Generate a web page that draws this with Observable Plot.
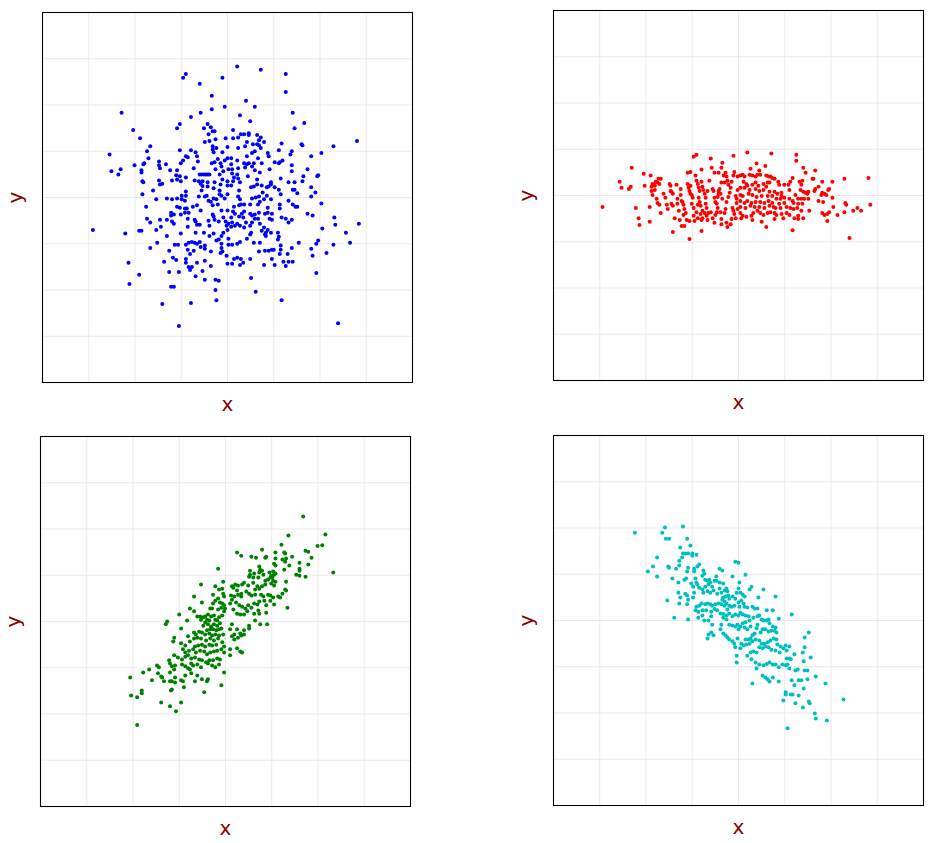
<!DOCTYPE html>
<html>
<head>
<meta charset="utf-8">
<script src="https://cdn.jsdelivr.net/npm/d3@7"></script>
<script src="https://cdn.jsdelivr.net/npm/@observablehq/plot@0.6"></script>
<style>
  html, body { margin: 0; padding: 0; background: #fff; }
  #wrap { position: relative; width: 935px; height: 843px; background: #fff; }
  .panel { position: absolute; }
</style>
</head>
<body>
<div id="wrap"></div>
<script>
// Panel 1: independent (blue)
const bluePoints = [
[-0.96,2.59],[-0.90,2.67],[-0.60,2.46],[-0.11,2.59],[-0.34,2.20],[-2.29,1.83],[-0.34,1.91],[-0.06,1.96],[-0.58,1.83],[-0.79,1.74],[-1.03,1.59],[-1.09,1.50],[-2.04,1.46],[-1.89,1.28],[-0.51,1.50],[-0.43,1.59],[-0.36,1.52],[-0.32,1.43],[-0.28,1.43],[-0.41,1.37],[-0.26,1.26],[-0.04,1.28],[-0.49,1.20],[-0.39,1.22],[-1.67,1.11],[-1.74,1.00],[-2.55,0.93],[-1.71,0.85],[-1.03,1.02],[-0.90,0.89],[-0.86,0.87],[-0.79,1.02],[-0.69,0.98],[-0.66,0.89],[-0.96,0.80],[-1.01,0.74],[-0.64,0.78],[-0.32,1.04],[-0.24,1.07],[-0.30,0.98],[-0.32,1.11],[-0.11,0.98],[0.00,1.09],[-2.01,0.70],[-1.82,0.72],[-1.80,0.74],[-1.48,0.78],[-1.33,0.72],[-1.48,0.70],[-1.46,0.63],[-1.86,0.59],[-1.86,0.54],[-2.31,0.61],[-2.51,0.57],[-2.36,0.50],[-1.24,0.59],[-1.09,0.59],[-0.73,0.63],[-0.60,0.50],[-0.56,0.50],[-0.51,0.50],[-0.47,0.50],[-0.43,0.50],[-0.39,0.50],[-0.34,0.74],[-0.28,0.76],[-0.15,0.74],[-0.13,0.67],[-0.21,0.83],[-0.06,0.80],[0.00,0.85],[-0.26,0.61],[-0.17,0.50],[-0.09,0.57],[0.02,0.61],[-1.11,0.48],[-1.03,0.46],[-0.90,0.43],[-1.48,0.37],[-1.41,0.30],[-1.46,0.28],[-1.20,0.37],[-1.09,0.39],[-1.01,0.35],[-0.71,0.37],[-0.62,0.35],[-0.54,0.35],[-0.58,0.30],[-0.43,0.33],[-0.28,0.33],[-0.11,0.39],[0.00,0.35],[-1.84,0.35],[-1.82,0.33],[-1.61,0.15],[-1.84,0.07],[-1.54,-0.04],[-1.31,-0.02],[-1.20,-0.04],[-1.09,-0.02],[-0.99,0.04],[-0.90,0.13],[-0.99,-0.04],[-0.90,0.04],[-0.92,-0.07],[-0.54,0.25],[-0.56,0.15],[-0.43,0.24],[-0.30,0.20],[-0.15,0.28],[-0.17,0.15],[0.00,0.26],[-0.62,0.02],[-0.49,0.02],[-0.45,0.04],[-0.41,-0.07],[-0.36,-0.09],[-0.30,-0.02],[-0.24,-0.04],[-0.17,0.07],[-0.13,0.04],[-0.06,-0.02],[0.00,0.07],[-1.76,-0.20],[-1.09,-0.20],[-1.03,-0.22],[-0.92,-0.24],[-0.88,-0.24],[-0.75,-0.20],[-0.66,-0.17],[-0.92,-0.33],[-0.84,-0.33],[-0.58,-0.28],[-0.32,-0.17],[-0.21,-0.15],[-0.13,-0.28],[0.00,-0.28],[-1.22,-0.33],[-1.16,-0.37],[-1.01,-0.37],[-1.22,-0.39],[-1.74,-0.46],[-1.67,-0.54],[-1.46,-0.48],[-1.31,-0.48],[-1.20,-0.52],[-1.16,-0.57],[-0.86,-0.46],[-0.71,-0.48],[-0.66,-0.59],[-0.69,-0.52],[-0.60,-0.59],[-0.41,-0.50],[-0.39,-0.61],[-0.32,-0.37],[-0.30,-0.41],[-0.28,-0.48],[-0.19,-0.52],[-0.09,-0.43],[-0.04,-0.52],[-0.02,-0.61],[0.02,-0.57],[-2.91,-0.70],[-2.21,-0.78],[-1.91,-0.72],[-1.86,-0.72],[-1.54,-0.70],[-1.44,-0.63],[-1.31,-0.83],[-1.01,-0.78],[-0.86,-0.63],[-0.69,-0.76],[-0.51,-0.76],[-0.39,-0.83],[-0.30,-0.78],[-0.13,-0.83],[-0.19,-0.91],[-0.24,-0.93],[-0.13,-1.00],[-0.09,-0.76],[0.00,-0.70],[0.02,-0.89],[-1.52,-0.98],[-1.67,-1.09],[-1.14,-1.02],[-1.07,-1.02],[-0.90,-1.02],[-0.84,-0.98],[-0.77,-0.96],[-0.71,-0.98],[-0.66,-1.00],[-0.60,-0.96],[-0.49,-1.04],[-0.49,-1.11],[-0.86,-1.13],[-0.73,-1.15],[-0.81,-1.22],[-0.58,-1.07],[-0.36,-1.17],[-0.15,-1.20],[-0.11,-1.17],[-0.13,-1.09],[-0.02,-1.26],[0.02,-1.02],[-1.26,-1.15],[-1.37,-1.39],[-1.18,-1.30],[-1.11,-1.35],[-0.90,-1.33],[-0.90,-1.41],[-0.77,-1.50],[-0.81,-1.57],[-0.84,-1.50],[-0.66,-1.41],[-0.49,-1.37],[-0.36,-1.48],[-0.54,-1.59],[-2.14,-1.41],[-1.91,-1.67],[-2.12,-1.87],[-1.26,-1.61],[-1.05,-1.61],[-0.69,-1.70],[-0.49,-1.78],[-0.26,-1.78],[-0.19,-1.80],[0.00,-1.43],[-1.22,-1.93],[-1.16,-1.93],[-0.26,-2.00],[-1.41,-2.30],[-0.79,-2.28],[-0.24,-2.22],[-1.05,-2.78],
[0.21,2.83],[0.72,2.76],[1.26,2.67],[1.26,2.28],[0.40,2.09],[0.59,1.96],[0.27,1.78],[1.41,1.83],[0.49,1.65],[1.45,1.50],[1.66,1.61],[0.12,1.46],[0.29,1.37],[0.36,1.37],[0.46,1.39],[0.46,1.35],[0.64,1.35],[0.72,1.30],[0.68,1.24],[0.79,1.20],[0.23,1.30],[0.12,1.28],[0.42,1.20],[0.38,1.11],[0.55,1.15],[0.64,1.15],[0.68,1.13],[0.72,1.07],[0.23,1.07],[0.59,1.00],[0.53,0.96],[0.42,0.89],[0.87,0.96],[0.89,0.89],[1.11,1.02],[1.17,1.17],[1.39,1.00],[1.36,0.93],[1.60,1.15],[1.62,1.13],[1.81,0.89],[2.03,0.96],[2.29,1.11],[2.80,1.22],[0.08,0.85],[0.21,0.80],[0.36,0.74],[0.42,0.72],[0.46,0.74],[0.57,0.74],[0.66,0.85],[0.74,0.74],[0.53,0.67],[0.59,0.59],[0.38,0.65],[0.08,0.72],[0.10,0.61],[0.10,0.52],[0.23,0.63],[0.21,0.50],[0.70,0.54],[0.91,0.61],[1.02,0.76],[1.11,0.74],[1.13,0.76],[1.19,0.80],[1.39,0.70],[1.39,0.57],[1.15,0.41],[1.32,0.33],[1.45,0.33],[1.45,0.17],[1.41,0.17],[1.51,0.09],[1.62,0.35],[1.64,0.46],[1.73,0.61],[1.94,0.46],[1.96,0.48],[1.81,0.22],[1.90,0.11],[1.81,0.02],[0.64,0.39],[0.44,0.46],[0.23,0.41],[0.14,0.43],[0.12,0.35],[0.08,0.26],[0.27,0.33],[0.51,0.22],[0.57,0.24],[0.64,0.28],[0.74,0.26],[0.85,0.22],[0.89,0.24],[0.94,0.33],[0.94,0.28],[1.02,0.22],[1.11,0.17],[1.15,0.07],[0.76,0.11],[0.85,0.04],[0.68,0.02],[0.61,0.00],[0.53,-0.02],[0.25,0.15],[0.23,0.02],[0.27,-0.04],[0.29,-0.15],[0.25,-0.17],[0.14,-0.20],[0.12,-0.30],[0.36,-0.15],[0.49,-0.15],[0.66,-0.15],[0.70,-0.09],[0.79,-0.04],[0.94,-0.04],[0.87,-0.22],[1.13,-0.15],[1.13,-0.24],[1.32,-0.07],[1.41,-0.15],[1.47,-0.20],[1.51,-0.20],[1.17,-0.43],[1.26,-0.46],[1.32,-0.54],[1.39,-0.48],[1.73,-0.35],[1.84,-0.39],[2.03,-0.13],[2.33,-0.59],[2.31,-0.43],[2.84,-0.57],[2.05,-0.67],[2.56,-0.76],[2.65,-0.98],[2.29,-1.02],[2.14,-1.20],[1.92,-1.00],[1.96,-0.93],[1.81,-1.11],[1.84,-1.26],[1.54,-0.98],[1.39,-1.09],[1.30,-1.22],[1.21,-1.39],[1.32,-1.39],[1.41,-1.39],[1.26,-1.48],[1.15,-1.04],[1.15,-1.13],[1.13,-1.22],[1.09,-0.76],[1.11,-0.85],[1.09,-0.91],[0.94,-0.76],[0.87,-0.70],[0.83,-0.76],[0.81,-0.80],[0.83,-0.83],[0.91,-0.46],[0.96,-0.48],[0.87,-0.33],[0.96,-0.35],[0.81,-0.35],[0.68,-0.33],[0.59,-0.37],[0.49,-0.35],[0.53,-0.39],[0.36,-0.30],[0.31,-0.35],[0.34,-0.43],[0.25,-0.41],[0.16,-0.35],[0.08,-0.43],[0.10,-0.54],[0.08,-0.63],[0.16,-0.61],[0.21,-0.57],[0.27,-0.61],[0.36,-0.65],[0.40,-0.54],[0.49,-0.61],[0.53,-0.54],[0.59,-0.46],[0.66,-0.46],[0.70,-0.57],[0.79,-0.65],[0.74,-0.72],[0.51,-0.76],[0.49,-0.80],[0.42,-0.89],[0.57,-0.98],[0.70,-0.98],[0.27,-0.96],[0.21,-1.00],[0.10,-1.02],[0.68,-1.17],[0.81,-1.15],[0.89,-1.15],[0.96,-1.13],[1.00,-1.13],[0.96,-1.33],[0.79,-1.46],[1.02,-1.46],[0.49,-1.33],[0.34,-1.41],[0.29,-1.33],[0.27,-1.46],[0.21,-1.30],[0.14,-1.33],[0.10,-1.43],[0.51,-1.74],[0.61,-2.04],[1.17,-2.22],[1.92,-1.63],[2.39,-2.72]
];

// Panel 2: x wide, y narrow (red)
const redPoints = [
[-2.94,-0.25],[-2.57,0.30],[-2.53,0.17],[-2.37,0.14],[-2.33,0.19],[-2.31,0.60],[-2.22,-0.27],[-2.16,-0.49],[-2.14,-0.64],[-2.05,0.47],[-2.03,0.21],[-1.92,-0.57],[-1.92,-0.25],[-1.90,0.43],[-1.88,0.19],[-1.86,0.25],[-1.83,0.23],[-1.81,0.21],[-1.79,0.30],[-1.75,0.28],[-1.73,0.36],[-1.71,0.25],[-1.68,0.36],[-1.88,0.10],[-1.86,0.01],[-1.81,0.12],[-1.77,-0.07],[-1.75,-0.16],[-1.71,-0.20],[-1.68,-0.38],[-1.62,0.04],[-1.58,-0.05],[-1.55,-0.20],[-1.53,-0.29],[-1.49,0.25],[-1.47,0.21],[-1.47,0.10],[-1.45,0.08],[-1.42,0.04],[-1.45,-0.18],[-1.42,-0.22],[-1.38,-0.49],[-1.34,0.23],[-1.32,-0.07],[-1.32,-0.18],[-1.29,-0.33],[-1.27,-0.53],[-1.23,-0.66],[-1.25,0.14],[-1.25,0.01],[-1.23,-0.12],[-1.21,-0.14],[-1.19,-0.20],[-1.17,-0.29],[-1.17,-0.66],[-1.19,-0.42],[-1.14,-0.38],[-1.12,-0.53],[-1.10,0.49],[-1.04,0.51],[-1.10,0.25],[-1.08,0.17],[-1.06,0.10],[-1.04,0.21],[-1.04,0.04],[-1.01,0.01],[-0.99,-0.05],[-1.01,-0.18],[-0.97,-0.27],[-0.97,0.84],[-0.91,0.88],[-0.93,0.43],[-0.91,0.32],[-0.88,0.25],[-0.86,0.17],[-0.84,0.10],[-0.86,-0.05],[-0.84,-0.14],[-0.88,-0.20],[-0.82,-0.22],[-0.80,0.56],[-0.80,0.30],[-0.78,0.19],[-0.76,0.12],[-0.73,0.04],[-0.71,-0.05],[-0.71,-0.18],[-0.69,-0.27],[-0.91,-0.36],[-0.88,-0.49],[-0.82,-0.40],[-0.80,-0.53],[-1.06,-0.55],[-1.06,-0.94],[-0.95,-0.55],[-0.97,-0.44],[-0.78,-0.33],[-0.78,-0.49],[-0.73,-0.38],[-0.69,-0.44],[-0.67,-0.53],[-0.65,-0.38],[-0.60,-0.36],[-0.60,0.80],[-0.58,0.60],[-0.63,0.32],[-0.56,0.14],[-0.67,0.10],[-0.52,0.49],[-0.54,0.10],[-0.52,-0.05],[-0.50,-0.14],[-0.47,-0.18],[-0.45,-0.03],[-0.43,0.10],[-0.41,0.14],[-0.39,0.04],[-0.35,0.71],[-0.37,0.60],[-0.43,0.49],[-0.32,0.43],[-0.28,0.49],[-0.26,0.41],[-0.24,0.32],[-0.22,0.23],[-0.37,0.28],[-0.30,0.28],[-0.56,-0.49],[-0.50,-0.42],[-0.52,-0.59],[-0.47,-0.36],[-0.45,-0.27],[-0.39,-0.36],[-0.37,-0.51],[-0.37,-0.62],[-0.30,-0.38],[-0.28,-0.29],[-0.26,-0.14],[-0.22,-0.03],[-0.19,0.06],[-0.17,0.17],[-0.15,0.30],[-0.11,0.43],[-0.09,0.51],[-0.11,0.86],[-0.02,0.41],[-0.02,0.12],[-0.06,-0.01],[-0.04,-0.07],[-0.04,-0.16],[-0.13,-0.27],[-0.11,-0.33],[-0.09,-0.40],[-0.06,-0.49],[-0.26,-0.59],[-0.24,-0.68],[-0.17,-0.62],[-0.15,-0.51],[-0.02,-0.29],[-0.80,-0.77],[-1.42,-0.79],[-0.43,0.04],[-0.35,-0.07],
[0.19,0.93],[0.71,0.91],[1.25,0.88],[1.25,0.75],[0.39,0.69],[0.58,0.64],[0.26,0.58],[0.45,0.54],[1.40,0.60],[1.45,0.49],[1.66,0.54],[0.04,0.43],[0.09,0.45],[0.13,0.41],[0.24,0.45],[0.30,0.43],[0.37,0.41],[0.41,0.45],[0.47,0.45],[0.60,0.43],[0.65,0.41],[0.69,0.41],[0.73,0.38],[0.78,0.36],[0.86,0.30],[0.88,0.23],[0.11,0.30],[0.17,0.25],[0.30,0.23],[0.37,0.28],[0.43,0.21],[0.54,0.25],[0.63,0.28],[0.67,0.28],[0.99,0.23],[1.08,0.23],[1.17,0.38],[1.12,0.30],[1.10,0.12],[1.32,0.30],[1.38,0.32],[1.36,0.23],[1.34,0.12],[1.40,0.08],[1.45,0.06],[1.49,0.04],[1.51,0.08],[1.60,0.36],[1.62,0.36],[1.66,0.14],[1.64,0.10],[1.73,0.19],[1.81,0.30],[1.81,0.06],[1.79,0.01],[1.86,0.04],[1.90,0.01],[1.94,0.12],[1.96,0.14],[2.03,0.30],[2.29,0.36],[2.81,0.38],[0.04,0.17],[0.13,0.17],[0.19,0.21],[0.24,0.12],[0.37,0.14],[0.45,0.10],[0.54,0.12],[0.60,0.19],[0.67,0.08],[0.78,0.08],[0.84,0.04],[0.93,0.06],[0.93,-0.01],[0.04,0.01],[0.09,-0.01],[0.22,0.04],[0.30,0.01],[0.39,-0.03],[0.50,-0.01],[0.63,-0.01],[0.73,-0.01],[0.82,-0.07],[0.91,-0.07],[0.99,-0.05],[1.10,-0.07],[1.17,-0.12],[1.23,0.01],[1.29,-0.07],[1.36,-0.07],[1.42,-0.07],[1.51,-0.07],[1.73,-0.12],[1.83,-0.14],[2.03,-0.05],[2.31,-0.16],[2.33,-0.20],[2.57,-0.27],[2.65,-0.33],[2.85,-0.20],[0.04,-0.12],[0.13,-0.16],[0.19,-0.12],[0.28,-0.16],[0.37,-0.14],[0.47,-0.14],[0.56,-0.16],[0.65,-0.12],[0.73,-0.16],[0.88,-0.18],[0.99,-0.16],[1.19,-0.16],[1.29,-0.18],[1.38,-0.18],[0.04,-0.25],[0.15,-0.27],[0.26,-0.22],[0.35,-0.25],[0.45,-0.25],[0.56,-0.27],[0.67,-0.22],[0.76,-0.25],[0.80,-0.27],[0.91,-0.27],[1.04,-0.25],[1.12,-0.27],[1.19,-0.29],[1.27,-0.27],[1.36,-0.33],[1.53,-0.33],[1.81,-0.38],[1.86,-0.42],[1.96,-0.36],[1.92,-0.40],[2.05,-0.25],[2.14,-0.42],[2.29,-0.36],[2.48,-0.33],[0.04,-0.38],[0.09,-0.44],[0.17,-0.46],[0.28,-0.44],[0.32,-0.38],[0.41,-0.33],[0.47,-0.38],[0.54,-0.42],[0.63,-0.38],[0.69,-0.36],[0.78,-0.38],[0.82,-0.42],[0.93,-0.40],[0.97,-0.49],[1.04,-0.38],[1.10,-0.42],[1.21,-0.49],[1.29,-0.44],[1.40,-0.49],[1.29,-0.51],[0.06,-0.49],[0.30,-0.53],[0.50,-0.57],[0.60,-0.68],[0.78,-0.51],[1.17,-0.75],[1.92,-0.55],[2.40,-0.92]
];

// Panel 3: positive correlation (green)
const greenPoints = [
[-0.16,1.14],[-0.05,0.86],[-0.53,0.80],[-0.22,0.76],[-0.14,0.69],[-0.07,0.71],[-0.05,0.60],[-0.03,0.54],[-0.68,0.54],[-0.51,0.41],[-0.27,0.58],[-0.22,0.45],[-0.16,0.50],[-0.12,0.41],[-0.07,0.39],[-0.03,0.35],[-0.09,0.30],[-0.01,0.28],[-0.03,0.22],[-0.16,0.26],[-0.27,0.39],[-0.29,0.28],[-0.33,0.28],[-0.38,0.15],[-0.44,0.11],[-0.48,0.09],[-0.55,0.11],[-0.61,0.11],[-0.53,0.04],[-0.40,0.04],[-0.35,0.02],[-0.31,0.11],[-0.25,0.13],[-0.22,0.04],[-0.18,0.02],[-0.14,0.09],[-0.07,0.13],[-0.12,-0.04],[-0.18,-0.09],[-0.25,-0.06],[-0.31,-0.11],[-0.38,-0.06],[-0.44,-0.02],[-0.48,-0.09],[-0.40,-0.19],[-0.33,-0.17],[-0.27,-0.17],[-0.20,-0.19],[-0.14,-0.17],[-0.09,-0.15],[-0.05,-0.28],[-0.14,-0.30],[-0.22,-0.28],[-0.29,-0.30],[-0.35,-0.26],[-0.44,-0.28],[-0.51,-0.24],[-0.57,-0.22],[-0.64,-0.28],[-0.68,-0.24],[-0.61,-0.35],[-0.68,-0.37],[-0.53,-0.37],[-0.42,-0.41],[-0.33,-0.37],[-0.25,-0.41],[-0.16,-0.37],[-0.07,-0.45],[-0.20,-0.50],[-0.29,-0.52],[-0.35,-0.50],[-0.44,-0.54],[-0.51,-0.50],[-0.59,-0.52],[-0.66,-0.54],[-0.77,-0.43],[-0.81,-0.32],[-0.83,0.02],[-0.68,0.22],[-0.77,0.28],[-1.00,0.15],[-0.96,-0.15],[-1.26,0.00],[-1.29,-0.06],[-1.11,-0.35],[-1.13,-0.43],[-0.96,-0.47],[-0.87,-0.52],[-0.92,-0.60],[-0.87,-0.67],[-0.79,-0.63],[-0.70,-0.60],[-0.64,-0.67],[-0.55,-0.63],[-0.46,-0.65],[-0.40,-0.71],[-0.33,-0.67],[-0.25,-0.65],[-0.18,-0.63],[-0.09,-0.60],[-0.03,-0.54],[-0.03,-0.67],[-0.12,-0.82],[-0.18,-0.80],[-0.27,-0.84],[-0.35,-0.84],[-0.42,-0.88],[-0.51,-0.84],[-0.57,-0.82],[-0.66,-0.78],[-0.74,-0.80],[-0.81,-0.73],[-0.87,-0.76],[-0.94,-0.82],[-1.03,-0.78],[-1.11,-0.73],[-1.22,-0.84],[-1.20,-0.91],[-1.16,-0.97],[-1.09,-0.95],[-1.11,-1.04],[-0.94,-0.93],[-0.87,-0.97],[-0.81,-1.01],[-0.74,-0.91],[-0.70,-0.95],[-0.61,-0.93],[-0.53,-0.99],[-0.38,-0.91],[-0.29,-0.95],[-0.22,-0.99],[-0.14,-0.93],[-0.03,-1.10],[-0.09,-1.38],[-0.38,-1.25],[-0.40,-1.29],[-0.51,-1.25],[-0.61,-1.17],[-0.66,-1.29],[-0.74,-1.12],[-0.77,-1.04],[-0.87,-1.17],[-0.92,-1.29],[-0.90,-1.42],[-0.96,-1.27],[-1.09,-1.21],[-1.09,-1.32],[-1.16,-1.29],[-1.20,-1.29],[-1.20,-1.10],[-1.37,-1.21],[-1.33,-1.29],[-1.39,-1.19],[-1.46,-1.12],[-1.44,-0.99],[-1.48,-0.95],[-1.59,-1.27],[-1.65,-1.04],[-1.78,-1.10],[-2.06,-1.21],[-2.04,-1.60],[-1.91,-1.64],[-1.81,-1.49],[-1.81,-1.55],[-1.39,-1.75],[-1.20,-1.83],[-1.18,-1.49],[-1.16,-1.47],[-1.07,-1.94],[-0.96,-1.75],[-0.46,-1.53],[-1.91,-2.24],
[1.68,2.27],[1.36,1.86],[2.16,1.88],[2.09,1.65],[1.99,1.63],[2.33,1.06],[1.73,1.53],[1.79,1.51],[1.86,1.38],[1.79,1.23],[1.60,1.27],[1.60,1.14],[1.60,1.10],[1.53,1.01],[1.60,0.99],[1.73,0.97],[1.44,1.40],[1.31,1.36],[1.29,1.29],[1.23,1.34],[1.27,1.12],[1.38,1.21],[1.21,1.66],[1.08,1.49],[1.08,1.36],[1.05,1.25],[1.08,1.21],[1.27,1.49],[1.29,1.47],[0.79,1.55],[0.88,1.40],[0.86,1.38],[0.66,1.38],[0.56,1.40],[0.25,1.49],[0.34,1.42],[0.53,1.10],[0.53,1.01],[0.51,0.97],[0.62,1.04],[0.60,0.95],[0.71,0.95],[0.73,1.19],[0.75,1.12],[0.79,1.10],[0.73,1.06],[0.82,1.01],[0.95,1.06],[1.03,1.08],[1.08,1.04],[0.99,0.99],[0.97,0.95],[1.01,0.95],[1.05,1.01],[0.92,0.91],[0.86,0.88],[1.03,0.88],[1.08,0.86],[0.99,0.82],[1.05,0.78],[0.86,0.80],[0.79,0.76],[0.69,0.76],[0.73,0.71],[0.64,0.69],[0.60,0.84],[0.49,0.78],[0.40,0.84],[0.36,0.80],[0.27,0.78],[0.21,0.80],[0.14,0.76],[0.17,0.73],[0.25,0.67],[0.34,0.60],[0.34,0.54],[0.27,0.58],[0.19,0.54],[0.12,0.56],[0.45,0.65],[0.51,0.60],[0.56,0.56],[0.64,0.58],[0.77,0.58],[0.82,0.54],[0.92,0.58],[0.97,0.56],[1.03,0.52],[1.14,0.54],[1.18,0.52],[1.23,0.60],[1.31,0.67],[1.31,0.86],[1.29,0.69],[1.05,0.37],[0.97,0.45],[0.88,0.35],[0.84,0.45],[0.73,0.43],[0.69,0.37],[0.62,0.39],[0.56,0.30],[0.49,0.35],[0.43,0.28],[0.36,0.32],[0.30,0.35],[0.23,0.41],[0.14,0.47],[0.10,0.39],[0.17,0.26],[0.25,0.17],[0.32,0.15],[0.40,0.15],[0.47,0.22],[0.62,0.17],[0.71,0.24],[0.73,0.17],[1.34,0.30],[0.88,0.19],[0.64,0.02],[0.75,-0.06],[0.90,-0.06],[0.51,-0.09],[0.51,-0.15],[0.40,-0.19],[0.32,-0.26],[0.25,-0.17],[0.19,-0.28],[0.14,-0.06],[0.10,-0.17],[0.14,-0.32],[0.19,-0.39],[0.27,-0.35],[0.34,-0.30],[0.40,-0.28],[0.25,-0.58],[0.32,-0.65],[0.36,-0.67],[0.10,-0.60],[0.10,-0.73]
];

// Panel 4: negative correlation (cyan)
const cyanPoints = [
[-2.24,1.90],[-1.65,1.90],[-1.59,2.01],[-1.20,2.03],[-1.57,1.77],[-1.50,1.77],[-1.11,1.77],[-1.04,1.62],[-1.26,1.58],[-1.20,1.45],[-1.15,1.45],[-1.09,1.45],[-1.00,1.45],[-0.91,1.42],[-1.00,1.40],[-1.22,1.36],[-1.28,1.29],[-1.76,1.36],[-1.85,1.17],[-1.96,1.06],[-1.76,0.95],[-1.52,1.17],[-1.50,1.14],[-1.35,1.12],[-1.28,1.19],[-1.09,1.14],[-1.11,1.06],[-0.96,1.12],[-0.96,1.06],[-0.89,1.17],[-0.85,1.21],[-0.76,1.08],[-0.41,1.12],[-0.35,1.08],[-0.07,1.27],[0.00,1.25],[-0.48,0.95],[-0.13,0.95],[-1.43,0.91],[-1.30,0.82],[-1.17,0.88],[-1.13,0.91],[-0.93,0.91],[-1.02,0.80],[-0.91,0.82],[-0.98,0.73],[-0.89,0.78],[-0.85,0.71],[-0.78,0.97],[-0.74,1.01],[-0.72,0.88],[-0.67,0.86],[-0.63,0.88],[-0.61,0.82],[-0.52,0.86],[-0.48,0.86],[-0.41,0.82],[-0.33,0.80],[-0.65,0.78],[-0.57,0.73],[-0.72,0.73],[-0.78,0.67],[-0.76,0.60],[-0.67,0.63],[-0.61,0.60],[-0.54,0.65],[-0.46,0.58],[-0.41,0.69],[-0.37,0.60],[-0.30,0.65],[-0.26,0.69],[-0.24,0.63],[-0.22,0.54],[-0.28,0.52],[-0.33,0.50],[-0.35,0.45],[-0.30,0.41],[-0.26,0.37],[-0.20,0.47],[-0.13,0.52],[-0.07,0.47],[-0.04,0.60],[0.00,0.69],[0.00,0.39],[-0.09,0.32],[-0.15,0.30],[-0.20,0.32],[-0.24,0.24],[-0.30,0.32],[-0.37,0.35],[-0.43,0.37],[-0.50,0.35],[-0.57,0.32],[-0.61,0.35],[-0.67,0.37],[-0.72,0.35],[-0.80,0.37],[-0.85,0.32],[-0.91,0.30],[-0.93,0.22],[-0.87,0.19],[-0.78,0.22],[-0.70,0.22],[-0.59,0.19],[-0.52,0.25],[-0.46,0.22],[-0.39,0.15],[-0.33,0.14],[-0.26,0.11],[-0.20,0.15],[-0.13,0.09],[-0.07,0.13],[0.00,0.11],[-0.02,-0.09],[-0.07,-0.13],[-0.13,-0.11],[-0.20,-0.09],[-0.26,0.02],[-0.33,0.06],[-0.37,-0.09],[-0.39,-0.19],[-0.33,-0.28],[-0.28,-0.32],[-0.24,-0.37],[-0.20,-0.41],[-0.13,-0.45],[-0.09,-0.50],[-0.07,-0.58],[-0.02,-0.39],[0.00,-0.19],[-0.78,0.11],[-0.87,0.06],[-0.74,0.00],[-0.65,0.00],[-0.59,0.09],[-0.57,-0.09],[-0.65,-0.30],[-0.67,-0.39],[-0.59,-0.26],[-0.54,-0.32],[-1.30,0.60],[-1.28,0.37],[-1.26,0.50],[-1.15,0.58],[-1.11,0.54],[-1.09,0.45],[-0.98,0.50],[-0.96,0.60],[-1.11,0.35],[-1.54,0.43],[-1.39,0.06],[-1.09,0.02],[-0.04,-0.76],[-0.04,-0.91],
[0.15,0.99],[0.02,0.82],[0.28,0.73],[0.24,0.67],[0.54,0.67],[0.43,0.50],[0.80,0.52],[0.04,0.60],[0.09,0.56],[0.13,0.52],[0.06,0.43],[0.11,0.37],[0.02,0.30],[0.13,0.30],[0.19,0.28],[0.30,0.30],[0.35,0.26],[0.41,0.26],[0.61,0.22],[0.74,0.22],[0.87,0.04],[1.15,0.13],[0.04,0.17],[0.09,0.13],[0.15,0.11],[0.22,0.09],[0.24,0.00],[0.15,-0.04],[0.09,-0.06],[0.04,-0.13],[0.13,-0.15],[0.19,-0.19],[0.26,-0.13],[0.32,0.06],[0.41,0.09],[0.45,0.11],[0.50,0.02],[0.54,0.00],[0.61,0.00],[0.65,0.02],[0.67,-0.06],[0.74,-0.13],[0.80,-0.15],[0.71,-0.22],[0.78,-0.22],[0.82,-0.26],[0.65,-0.24],[0.58,-0.19],[0.52,-0.19],[0.48,-0.26],[0.41,-0.09],[0.39,-0.17],[0.35,-0.28],[0.30,-0.32],[0.26,-0.39],[0.22,-0.41],[0.15,-0.41],[0.06,-0.50],[0.11,-0.54],[0.04,-0.60],[0.17,-0.52],[0.24,-0.50],[0.30,-0.45],[0.37,-0.41],[0.45,-0.43],[0.50,-0.50],[0.56,-0.50],[0.63,-0.47],[0.69,-0.43],[0.76,-0.39],[0.82,-0.41],[0.84,-0.52],[0.91,-0.56],[1.02,-0.54],[1.10,-0.56],[1.04,-0.65],[0.97,-0.60],[0.89,-0.69],[0.80,-0.65],[0.71,-0.63],[0.65,-0.58],[0.58,-0.56],[0.52,-0.60],[0.45,-0.58],[0.39,-0.69],[0.32,-0.67],[0.26,-0.69],[0.19,-0.76],[0.28,-0.84],[0.37,-0.91],[0.39,-1.04],[0.45,-0.95],[0.54,-0.97],[0.61,-0.94],[0.67,-0.91],[0.74,-0.95],[0.80,-0.95],[0.87,-1.01],[0.95,-0.95],[1.02,-0.97],[1.06,-0.95],[1.10,-1.04],[1.21,-0.73],[1.39,-0.69],[1.43,-0.58],[1.43,-0.37],[1.52,-0.26],[1.56,-0.80],[1.41,-0.88],[1.43,-1.08],[1.49,-1.08],[1.28,-1.06],[1.23,-1.08],[1.13,-0.84],[1.04,-0.82],[1.10,-0.82],[0.52,-1.19],[0.58,-1.23],[0.63,-1.27],[0.67,-1.32],[0.74,-1.23],[0.87,-1.32],[0.30,-1.36],[1.02,-1.55],[1.02,-1.60],[0.97,-1.73],[1.13,-1.60],[1.17,-1.60],[1.21,-1.40],[1.15,-1.29],[1.30,-1.29],[1.36,-1.29],[1.49,-1.27],[1.67,-1.21],[1.88,-1.36],[1.30,-1.62],[1.41,-1.47],[1.52,-1.75],[1.54,-1.79],[1.23,-1.79],[1.39,-1.88],[1.65,-2.01],[1.67,-2.12],[1.91,-2.16],[2.27,-1.71],[1.06,-2.33]
];

const gridTicks = [-3, -2, -1, 0, 1, 2, 3];
const axisDomain = [-4, 4];
const xLabel = "x";
const yLabel = "y";

const panels = [
  {points: bluePoints,  color: "#0000ff", left: 42,  top: 12},
  {points: redPoints,   color: "#ff0000", left: 553, top: 10},
  {points: greenPoints, color: "#008000", left: 40,  top: 436},
  {points: cyanPoints,  color: "#00bfbf", left: 553, top: 435}
];

const M = {l: 40, r: 10, t: 10, b: 40};
const S = 370;
const wrap = document.getElementById("wrap");

for (const p of panels) {
  const chart = Plot.plot({
    width: M.l + S + M.r,
    height: M.t + S + M.b,
    marginLeft: M.l, marginRight: M.r, marginTop: M.t, marginBottom: M.b,
    style: {background: "transparent", fontFamily: "DejaVu Sans, sans-serif"},
    x: {domain: axisDomain, axis: null},
    y: {domain: axisDomain, axis: null},
    marks: [
      Plot.gridX(gridTicks, {stroke: "#ebebeb", strokeOpacity: 1, strokeWidth: 1}),
      Plot.gridY(gridTicks, {stroke: "#ebebeb", strokeOpacity: 1, strokeWidth: 1}),
      Plot.dot(p.points, {x: d => d[0], y: d => d[1], r: 2, fill: p.color, stroke: null}),
      Plot.frame({stroke: "#000", strokeWidth: 1.1}),
      Plot.text([xLabel], {text: d => d, frameAnchor: "bottom", textAnchor: "middle", lineAnchor: "middle", dy: 22.5, fontSize: 20, fill: "#8b0000"}),
      Plot.text([yLabel], {text: d => d, frameAnchor: "left", textAnchor: "middle", lineAnchor: "middle", dx: -27, rotate: -90, fontSize: 20, fill: "#8b0000"})
    ]
  });
  const div = document.createElement("div");
  div.className = "panel";
  div.style.left = (p.left - M.l) + "px";
  div.style.top = (p.top - M.t) + "px";
  div.appendChild(chart);
  wrap.appendChild(div);
}
</script>
</body>
</html>
